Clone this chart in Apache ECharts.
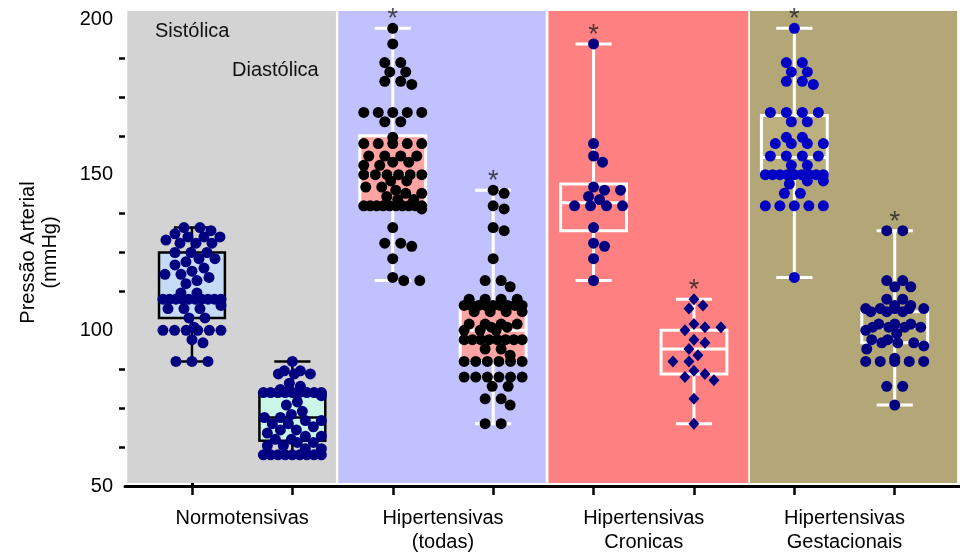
<!DOCTYPE html>
<html>
<head>
<meta charset="utf-8">
<script src="https://cdn.jsdelivr.net/npm/echarts@6/dist/echarts.min.js"></script>
<style>
  html, body { margin: 0; padding: 0; background: #fff; }
  #chart { width: 960px; height: 554px; }
</style>
</head>
<body>
<div id="chart"></div>
<script>
// ---- data -------------------------------------------------------------
const groups = ['Normotensivas', 'Hipertensivas\n(todas)', 'Hipertensivas\nCronicas', 'Hipertensivas\nGestacionais'];
const measures = ['Sistólica', 'Diastólica'];
const yMinorTicks = [62.5, 75, 87.5, 112.5, 125, 137.5, 162.5, 175, 187.5];

// individual pressures (mmHg), one list per box, in drawing order
const normoSis = [133, 133, 132, 131, 130, 130, 130, 129, 128, 128, 128,
  125, 125, 125, 123, 123, 122, 121, 120, 119, 118, 118, 117, 116, 115, 112, 112,
  110, 110, 110, 110, 110, 110, 110, 110, 110, 110, 108, 107, 107, 107, 104, 104,
  101, 100, 100, 100, 100, 100, 100, 97, 96, 90, 90, 90];
const normoDia = [90, 87, 87, 86, 86, 86, 83, 82, 81, 80, 80, 80, 80, 80, 80, 80, 80, 80,
  79, 77, 76, 74, 73, 72, 72, 71, 71, 70, 70, 69, 68, 68, 67, 66, 66, 65, 65, 64, 64,
  63, 63, 62, 62, 60, 60, 60, 60, 60, 60, 60, 60, 60];
const todasSis = [197, 192, 186, 186, 183, 183, 180, 180, 179, 170, 170, 170, 170, 170,
  167, 167, 162, 160, 160, 160, 160, 160, 156, 156, 156, 156, 154, 154, 153, 153,
  150, 150, 150, 150, 150, 150, 148, 148, 146, 146, 145, 144, 144, 143, 142, 142,
  140, 140, 140, 140, 140, 140, 140, 140, 140, 140, 139, 133, 128, 128, 127, 123, 117, 116, 116];
const todasDia = [145, 144, 140, 139, 133, 132, 123, 116, 116, 114, 110, 110, 110, 110,
  108, 108, 108, 108, 108, 108, 108, 108, 108, 106, 106, 106, 106, 102, 102, 102, 102,
  101, 101, 100, 100, 100, 97, 97, 97, 97, 97, 97, 97, 97, 94, 94, 92,
  90, 90, 90, 90, 90, 90, 85, 85, 85, 85, 85, 85, 82, 82, 78, 78, 76, 70, 70];
const cronSis = [192, 160, 156, 154, 146, 145, 145, 143, 142, 140, 140, 140, 140, 133, 128, 127, 123, 116];
const cronDia = [110, 108, 107, 102, 101, 101, 100, 97, 96, 94, 92, 90, 90, 87, 86, 85, 84, 78, 70];
const gestSis = [197, 186, 186, 183, 183, 180, 180, 179, 170, 170, 170, 170, 167, 167, 162, 162,
  160, 160, 160, 160, 156, 156, 156, 156, 153, 153, 150, 150, 150, 150, 150, 150, 150, 150, 150,
  148, 148, 147, 144, 144, 140, 140, 140, 140, 140, 117];
const gestDia = [132, 132, 116, 116, 114, 114, 110, 110, 108, 108, 107, 107, 107, 107, 107,
  106, 106, 106, 102, 102, 102, 101, 101, 101, 101, 100, 99, 97, 97, 96, 96, 96, 95, 94, 91,
  90, 90, 90, 90, 90, 82, 82, 76];

// box summaries: whisker low, Q1, median, Q3, whisker high
const boxMin = [90, 60, 116, 70, 116, 70, 117, 76];
const boxQ1  = [104, 64.5, 141, 90, 132, 86, 150, 96];
const boxMed = [110, 72, 150, 100, 141, 94, 155.5, 101];
const boxQ3  = [125, 80, 162.5, 107.5, 147, 100, 169, 106];
const boxMax = [133, 90, 197, 145, 192, 110, 197, 132];

// boxes flagged as significant (*)
const starred = [false, false, true, true, true, true, true, true];

// ---- styling ----------------------------------------------------------
const FONT = '"Liberation Sans", Arial, sans-serif';
const allPoints = [normoSis, normoDia, todasSis, todasDia, cronSis, cronDia, gestSis, gestDia];
const dotColors = ['#000080', '#000080', '#000000', '#000000', '#000080', '#000080', '#0000c4', '#000080'];
const dotSymbols = ['circle', 'circle', 'circle', 'circle', 'circle', 'diamond', 'circle', 'circle'];
const boxFills = ['#c6dcf6', '#c9f6e7', '#ffa3a3', '#ffa3a3', 'rgba(0,0,0,0)', 'rgba(0,0,0,0)', '#bbb07e', '#b6aa79'];
const boxStrokes = ['#000', '#000', '#fff', '#fff', '#fff', '#fff', '#fff', '#fff'];

// shaded bands behind each pair of boxes (x extent in box-index units)
const bandRanges = [[-0.644, 1.434], [1.457, 3.523], [3.551, 5.541], [5.558, 7.622]];
const bandColors = ['#d3d3d3', '#c1c1ff', '#ff8080', '#b3a777'];
const BAND_TOP = 202.6, BAND_BOTTOM = 51;

const X_MIN = -0.667, X_MAX = 7.65;
const BOX_HALF = 0.328, CAP_HALF = 0.18;

const chart = echarts.init(document.getElementById('chart'), null, { renderer: 'canvas' });

const xAxis = {
  type: 'value', min: X_MIN, max: X_MAX,
  axisLine: { show: true, onZero: false, lineStyle: { color: '#000', width: 3 } },
  axisTick: { show: true, customValues: [0, 1, 2, 3, 4, 5, 6, 7], length: 9, lineStyle: { color: '#000', width: 2.5 } },
  axisLabel: {
    customValues: [0.5, 2.5, 4.5, 6.5],
    formatter: v => groups[Math.round((v - 0.5) / 2)],
    fontSize: 20, lineHeight: 24, margin: 20, color: '#000', fontFamily: FONT
  },
  splitLine: { show: false }
};
const yAxisMain = {
  type: 'value', min: 50, max: 200, interval: 50,
  axisLine: { show: true, lineStyle: { color: '#000', width: 3 } },
  axisTick: { show: true, length: 9, lineStyle: { color: '#000', width: 2.5 } },
  splitLine: { show: false },
  axisLabel: { fontSize: 20, color: '#000', margin: 12, fontFamily: FONT },
  name: 'Pressão Arterial\n(mmHg)', nameLocation: 'middle', nameGap: 64, nameRotate: 90,
  nameTextStyle: { fontSize: 20, lineHeight: 22, color: '#000', fontFamily: FONT }
};
// companion axis that only carries the short minor ticks
const yAxisMinor = {
  type: 'value', min: 50, max: 200, position: 'left', offset: 0,
  axisLine: { show: false },
  axisTick: { show: true, customValues: yMinorTicks, length: 6, lineStyle: { color: '#000', width: 2.5 } },
  axisLabel: { show: false },
  splitLine: { show: false }
};
const grid = { left: 125, right: 0, top: 19, bottom: 68 };

const bandSeries = {
  type: 'custom', name: 'bands', clip: false, silent: true, z: 1,
  data: bandRanges.map(r => [r[0], r[1], BAND_TOP]),
  encode: { x: [0, 1], y: 2 },
  renderItem(params, api) {
    const tl = api.coord([api.value(0), BAND_TOP]);
    const br = api.coord([api.value(1), BAND_BOTTOM]);
    return { type: 'rect', shape: { x: tl[0], y: tl[1], width: br[0] - tl[0], height: br[1] - tl[1] },
      style: { fill: bandColors[params.dataIndex] } };
  }
};

chart.setOption({ animation: false, grid, xAxis, yAxis: [yAxisMain, yAxisMinor], series: [bandSeries] });

// pixel size of one unit on each axis
const a = chart.convertToPixel({ gridIndex: 0 }, [0, 100]);
const b = chart.convertToPixel({ gridIndex: 0 }, [1, 110]);
const pxX = b[0] - a[0];
const pxY = (a[1] - b[1]) / 10;

// spread equal / close values sideways so dots do not pile up (beeswarm rows)
function swarm(values) {
  const D = 10.5, HALF = 29, SPACE = 16;
  const counts = new Map();
  values.forEach(v => counts.set(v, (counts.get(v) || 0) + 1));
  const rows = [...counts.entries()].sort((p, q) => q[0] - p[0]);
  const placed = [];
  const out = [];
  rows.forEach(([v, n]) => {
    const y = v * pxY;
    const s = n > 1 ? Math.min(SPACE, 2 * HALF / (n - 1)) : 0;
    const base = [];
    for (let k = 0; k < n; k++) base.push((k - (n - 1) / 2) * s);
    const room = Math.max(0, HALF - (n - 1) * s / 2);
    const shifts = [0];
    for (let k = 1; k <= Math.floor(room); k++) shifts.push(k, -k);
    let best = 0, bestCost = Infinity;
    shifts.forEach(sh => {
      let cost = 0.015 * Math.abs(sh);
      base.forEach(bx => {
        const x = bx + sh;
        placed.forEach(p => {
          const d = Math.hypot(x - p[0], y - p[1]);
          if (d < D) cost += D - d;
        });
      });
      if (cost < bestCost - 1e-9) { bestCost = cost; best = sh; }
    });
    base.forEach(bx => {
      placed.push([bx + best, y]);
      out.push([(bx + best) / pxX, v]);
    });
  });
  return out;
}

const boxSeries = {
  type: 'custom', name: 'boxes', z: 3,
  data: boxMin.map((m, i) => [i, boxMin[i], boxQ1[i], boxMed[i], boxQ3[i], boxMax[i]]),
  encode: { x: 0, y: [1, 2, 3, 4, 5] },
  renderItem(params, api) {
    const i = api.value(0);
    const stroke = boxStrokes[params.dataIndex];
    const lw = stroke === '#000' ? 2.5 : 3;
    const lo = api.coord([i, api.value(1)]);
    const q1L = api.coord([i - BOX_HALF, api.value(2)]);
    const q3R = api.coord([i + BOX_HALF, api.value(4)]);
    const medL = api.coord([i - BOX_HALF, api.value(3)]);
    const medR = api.coord([i + BOX_HALF, api.value(3)]);
    const hi = api.coord([i, api.value(5)]);
    const q1C = api.coord([i, api.value(2)]);
    const q3C = api.coord([i, api.value(4)]);
    const capW = CAP_HALF * pxX;
    const ls = { stroke, lineWidth: lw, fill: null };
    return {
      type: 'group',
      children: [
        { type: 'line', shape: { x1: hi[0], y1: hi[1], x2: q3C[0], y2: q3C[1] }, style: ls },
        { type: 'line', shape: { x1: lo[0], y1: lo[1], x2: q1C[0], y2: q1C[1] }, style: ls },
        { type: 'line', shape: { x1: hi[0] - capW, y1: hi[1], x2: hi[0] + capW, y2: hi[1] }, style: ls },
        { type: 'line', shape: { x1: lo[0] - capW, y1: lo[1], x2: lo[0] + capW, y2: lo[1] }, style: ls },
        { type: 'rect', shape: { x: q1L[0], y: q3R[1], width: q3R[0] - q1L[0], height: q1L[1] - q3R[1] },
          style: { fill: boxFills[params.dataIndex], stroke, lineWidth: lw } },
        { type: 'line', shape: { x1: medL[0], y1: medL[1], x2: medR[0], y2: medR[1] }, style: ls }
      ]
    };
  }
};

const dotSeries = allPoints.map((vals, i) => ({
  type: 'scatter', name: 'dots' + i, z: 5,
  symbol: dotSymbols[i],
  symbolSize: dotSymbols[i] === 'diamond' ? [11, 12] : 11,
  itemStyle: { color: dotColors[i], opacity: 1 },
  data: swarm(vals).map(p => [i + p[0], p[1]])
}));

const starSeries = {
  type: 'scatter', name: 'signif', z: 6, symbolSize: 2, clip: false,
  itemStyle: { color: 'rgba(0,0,0,0)' },
  data: boxMax.map((m, i) => [i, m]).filter((p, i) => starred[i]),
  label: { show: true, formatter: '*', position: 'top', distance: -6, fontSize: 27, color: '#222', fontFamily: FONT }
};

chart.setOption({
  series: [bandSeries, boxSeries, ...dotSeries, starSeries],
  graphic: [
    { type: 'text', x: 155, y: 31, z: 10, style: { text: measures[0], font: '20px ' + FONT, fill: '#111', verticalAlign: 'middle' } },
    { type: 'text', x: 232, y: 70, z: 10, style: { text: measures[1], font: '20px ' + FONT, fill: '#111', verticalAlign: 'middle' } }
  ]
});
</script>
</body>
</html>
